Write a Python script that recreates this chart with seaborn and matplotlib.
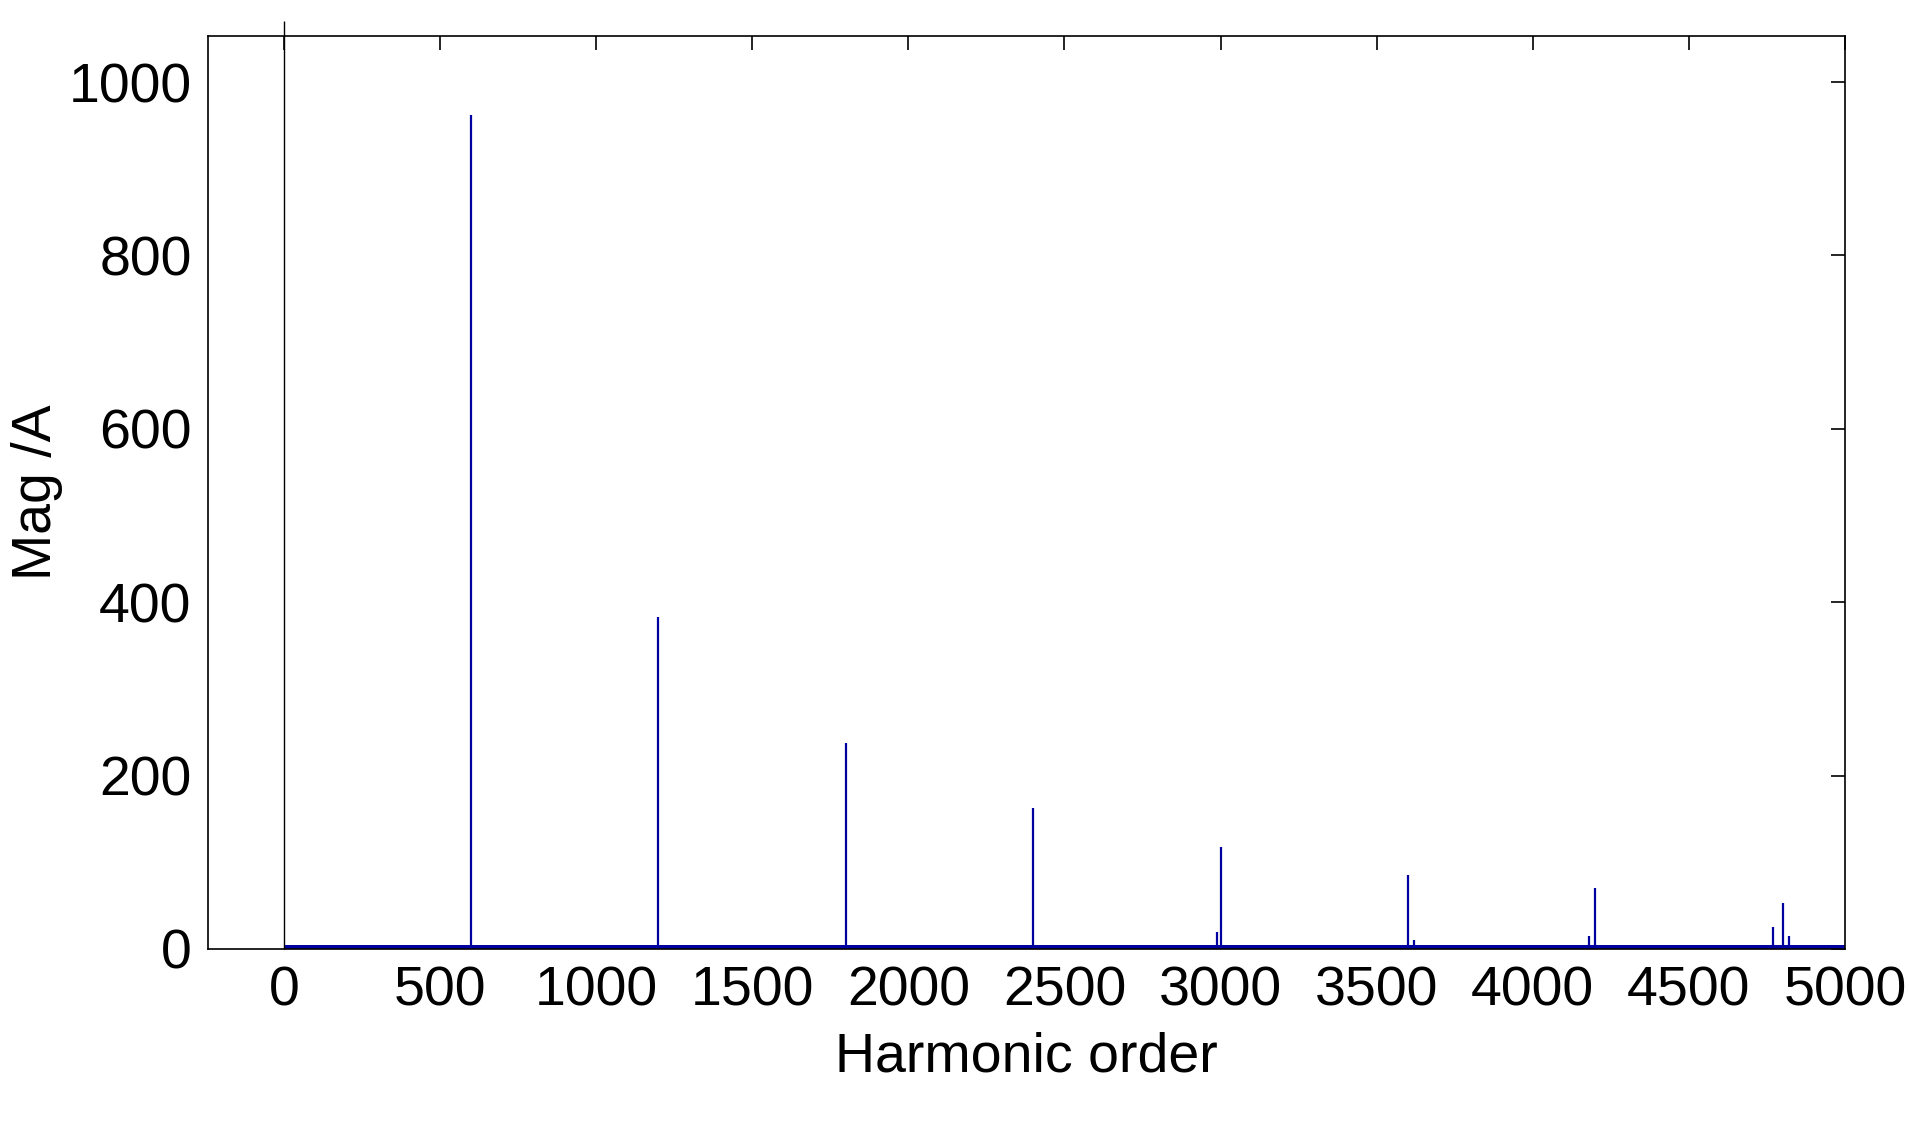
import matplotlib
matplotlib.use("Agg")
import matplotlib.pyplot as plt
import seaborn as sns

sns.set_style("white")
plt.rcParams['font.family'] = ['Liberation Sans', 'DejaVu Sans']

harmonic = [0, 600, 1200, 1800, 2400, 2990, 3000, 3600, 3620, 4180, 4200, 4770, 4800, 4820]
magnitude = [1070, 962, 383, 237, 163, 20, 118, 85, 10, 15, 70, 25, 53, 15]
noise_floor = 5
noise_range = [0, 5000]

fig = plt.figure(figsize=(19.10, 11.27), dpi=100)
ax = fig.add_axes([0.109, 0.158, 0.857, 0.81])
blue = "#0000a0"
ax.fill_between(noise_range, 0, noise_floor, color=blue, lw=0)
cols = ["black" if h == 0 else blue for h in harmonic]
lws = [1.0 if h == 0 else 1.6 for h in harmonic]
lc = ax.vlines(harmonic, 0, magnitude, colors=cols, linewidths=lws)
lc.set_clip_on(False)
ax.set_xlim(-242, 5000)
ax.set_ylim(0, 1053)
ax.set_xticks(range(0, 5001, 500))
ax.set_yticks(range(0, 1001, 200))
ax.tick_params(direction="in", length=10, width=1.2, labelsize=40, top=True, right=True,
               pad=12, colors="black")
for s in ax.spines.values():
    s.set_linewidth(1.2); s.set_color("black")
ax.set_xlabel("Harmonic order", fontsize=40, color="black", labelpad=10)
ax.set_ylabel("Mag /A", fontsize=40, color="black", labelpad=4)
fig.savefig("out.png", dpi=100)
